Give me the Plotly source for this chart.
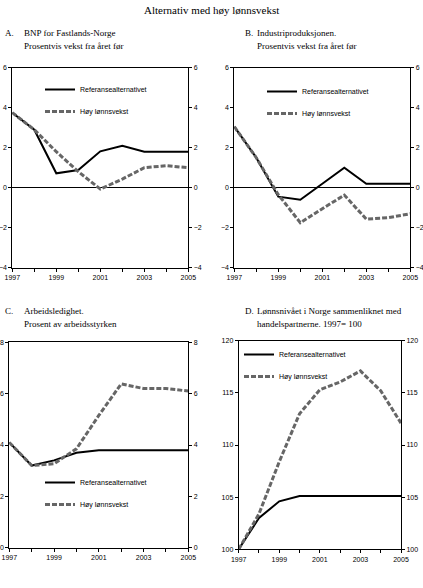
import plotly.graph_objects as go

# years on the x axis
years = [1997, 1998, 1999, 2000, 2001, 2002, 2003, 2004, 2005]
year_labels = ["1997", "", "1999", "", "2001", "", "2003", "", "2005"]

# A. BNP for Fastlands-Norge, prosentvis vekst
bnp_ref = [3.75, 2.9, 0.72, 0.88, 1.82, 2.1, 1.8, 1.8, 1.8]
bnp_hoy = [3.75, 2.9, 1.8, 0.8, -0.07, 0.43, 1.0, 1.1, 1.0]

# B. Industriproduksjonen, prosentvis vekst
ind_ref = [3.05, 1.5, -0.45, -0.6, 0.2, 1.0, 0.2, 0.2, 0.2]
ind_hoy = [3.05, 1.5, -0.35, -1.75, -1.05, -0.37, -1.57, -1.5, -1.3]

# C. Arbeidsledighet, prosent av arbeidsstyrken
ledig_ref = [4.1, 3.2, 3.4, 3.7, 3.8, 3.8, 3.8, 3.8, 3.8]
ledig_hoy = [4.1, 3.2, 3.27, 3.85, 5.15, 6.38, 6.2, 6.2, 6.1]

# D. Lønnsnivået relativt til handelspartnerne, 1997=100
lonn_ref = [100, 103.0, 104.6, 105.1, 105.1, 105.1, 105.1, 105.1, 105.1]
lonn_hoy = [100, 103.4, 108.4, 113.0, 115.3, 116.05, 117.1, 115.2, 112.1]

series_names = ["Referansealternativet", "Høy lønnsvekst"]

panels = [
    {"ref": bnp_ref, "hoy": bnp_hoy, "range": [-4, 6], "dtick": 2,
     "letter": "A.", "lines": ["BNP for Fastlands-Norge", "Prosentvis vekst fra året før"]},
    {"ref": ind_ref, "hoy": ind_hoy, "range": [-4, 6], "dtick": 2,
     "letter": "B.", "lines": ["Industriproduksjonen.", "Prosentvis vekst fra året før"]},
    {"ref": ledig_ref, "hoy": ledig_hoy, "range": [0, 8], "dtick": 2,
     "letter": "C.", "lines": ["Arbeidsledighet.", "Prosent av arbeidsstyrken"]},
    {"ref": lonn_ref, "hoy": lonn_hoy, "range": [100, 120], "dtick": 5,
     "letter": "D.", "lines": ["Lønnsnivået i Norge sammenliknet med", "handelspartnerne. 1997= 100"]},
]

W, H = 423, 588

# plot areas in pixels: x0, x1, ytop, ybottom
boxes = [
    (12.3, 188.3, 67.7, 267.7),
    (234.3, 410.3, 67.7, 267.7),
    (9.3, 188.3, 342.3, 547.7),
    (238.7, 401.0, 340.7, 549.3),
]
# legend anchor (line start x, first line y) in pixels
legend_pos = [(45, 89), (267, 91), (45, 482), (244, 354)]
# title positions: letter x, text x, first line y
title_pos = [(3, 22, 33), (243, 255, 33), (3, 22, 311), (243, 255, 311)]

tick_font = dict(family="Liberation Sans, Arial, sans-serif", size=7, color="black")
serif = "Liberation Serif, Times New Roman, serif"

fig = go.Figure()
layout = {}
annotations = []

for i, p in enumerate(panels):
    n = i + 1
    sfx = "" if n == 1 else str(n)
    x0, x1, yt, yb = boxes[i]
    leg = "legend" if n == 1 else "legend%d" % n

    fig.add_trace(go.Scatter(
        x=years, y=p["ref"], mode="lines", name=series_names[0],
        line=dict(color="black", width=2),
        xaxis="x" + sfx, yaxis="y" + sfx, legend=leg, legendgroup="ref%d" % n,
    ))
    # dashed series sits on the right-hand axis (same range as the left one)
    fig.add_trace(go.Scatter(
        x=years, y=p["hoy"], mode="lines", name=series_names[1],
        line=dict(color="#666666", width=3, dash="5px,2px"),
        xaxis="x" + sfx, yaxis="y%d" % (n + 4), legend=leg, legendgroup="hoy%d" % n,
    ))

    layout["xaxis" + sfx] = dict(
        domain=[x0 / W, x1 / W], anchor="y" + sfx, range=[1997, 2005],
        tickvals=years, ticktext=year_labels, ticks="outside", ticklen=3,
        tickcolor="black", showline=True, linecolor="black", linewidth=1,
        mirror=True, showgrid=False, zeroline=False, tickfont=tick_font,
        fixedrange=True, automargin=False,
    )
    layout["yaxis" + sfx] = dict(
        domain=[1 - yb / H, 1 - yt / H], anchor="x" + sfx, range=p["range"],
        dtick=p["dtick"], ticks="outside", ticklen=3, tickcolor="black",
        showline=True, linecolor="black", linewidth=1, mirror=True,
        showgrid=False, zeroline=(p["range"][0] < 0), zerolinecolor="black",
        zerolinewidth=1, tickfont=tick_font, fixedrange=True, automargin=False,
    )
    # right-hand copy of the value axis
    layout["yaxis%d" % (n + 4)] = dict(
        overlaying="y" + sfx, side="right", anchor="x" + sfx, range=p["range"],
        dtick=p["dtick"], ticks="outside", ticklen=3, tickcolor="black",
        showline=False, showgrid=False, zeroline=False, tickfont=tick_font,
        fixedrange=True, automargin=False,
    )

    lx, ly = legend_pos[i]
    layout[leg] = dict(
        x=(lx - 5) / W, y=1 - (ly - 14) / H, xanchor="left", yanchor="top",
        bgcolor="rgba(0,0,0,0)", borderwidth=0, tracegroupgap=3,
        traceorder="grouped", itemwidth=30,
        font=dict(family="Liberation Sans, Arial, sans-serif", size=7, color="black"),
    )

    tx_l, tx_t, ty = title_pos[i]
    annotations.append(dict(
        text=p["letter"], x=tx_l / W, y=1 - ty / H, xref="paper", yref="paper",
        xanchor="left", yanchor="middle", showarrow=False,
        font=dict(family=serif, size=9, color="black"),
    ))
    for k, line in enumerate(p["lines"]):
        annotations.append(dict(
            text=line, x=tx_t / W, y=1 - (ty + 13 * k) / H, xref="paper", yref="paper",
            xanchor="left", yanchor="middle", showarrow=False,
            font=dict(family=serif, size=9, color="black"),
        ))

annotations.append(dict(
    text="Alternativ med høy lønnsvekst", x=0.5, y=1 - 10 / H, xref="paper", yref="paper",
    xanchor="center", yanchor="middle", showarrow=False,
    font=dict(family=serif, size=11, color="black"),
))

fig.update_layout(
    width=W, height=H, margin=dict(l=0, r=0, t=0, b=0),
    paper_bgcolor="white", plot_bgcolor="white",
    showlegend=True, annotations=annotations, **layout,
)

# drop the browser's default page margin so the figure sits at the window's corner
fig.write_html(
    "out.html",
    config={"displayModeBar": False},
    post_script="document.body.style.margin = '0';",
)
